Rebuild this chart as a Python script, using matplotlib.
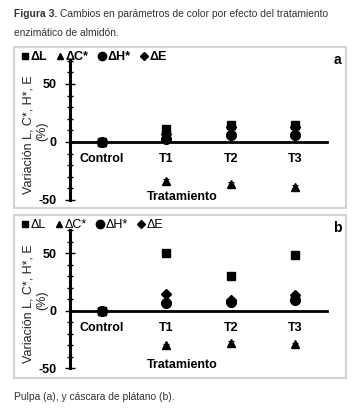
import matplotlib
matplotlib.use('Agg')
import matplotlib.pyplot as plt
from matplotlib.lines import Line2D
from matplotlib.patches import Rectangle
from matplotlib.ticker import MultipleLocator

plt.rcParams['font.family'] = ['Liberation Sans', 'DejaVu Sans']

# Data
categories = ['Control', 'T1', 'T2', 'T3']

# Pulpa (a)
pulpa_L = [0, 11, 15, 15]
pulpa_C = [0, -34, -36.5, -39]
pulpa_H = [0, 3, 6, 6]
pulpa_E = [0, 7, 13, 13]
pulpa_err = [0.5, 2, 2, 2]

# Cascara (b)
cascara_L = [0, 50, 30, 48]
cascara_C = [0, -30, -28, -29]
cascara_H = [0, 7, 8, 9]
cascara_E = [0, 14.5, 9, 13.5]
cascara_err = [0.5, 1.5, 1.5, 1.5]

series_names = ['\u0394L', '\u0394C*', '\u0394H*', '\u0394E']
markers = ['s', '^', 'o', 'D']
msizes = [6, 6, 7, 5]

W, H = 362, 415
fig = plt.figure(figsize=(W / 100, H / 100), dpi=100)


def fx(px):
    return px / W


def fy(py):
    return 1 - py / H


# Title: shrink the font until the first line fits the width of the panels
title_col = '#333333'
fs = 8.6
while True:
    t1 = fig.text(fx(14), fy(14), 'Figura 3.', fontsize=fs, fontweight='bold',
                  color=title_col, va='center')
    fig.canvas.draw()
    bb = t1.get_window_extent()
    t2 = fig.text(bb.x1 / W + fx(3), fy(14),
                  'Cambios en parámetros de color por efecto del tratamiento',
                  fontsize=fs, color=title_col, va='center')
    fig.canvas.draw()
    if t2.get_window_extent().x1 <= 334 or fs < 6:
        break
    t1.remove()
    t2.remove()
    fs -= 0.2

fig.text(fx(14), fy(33), 'enzimático de almidón.', fontsize=fs, color=title_col,
         va='center')
fig.text(fx(14), fy(397), 'Pulpa (a), y cáscara de plátano (b).', fontsize=fs,
         color=title_col, va='center')

panels = [
    dict(box=(47, 208), ax=(60.8, 200), data=[pulpa_L, pulpa_C, pulpa_H, pulpa_E],
         err=pulpa_err, letter='a', legw='bold'),
    dict(box=(215, 378), ax=(230, 368.5), data=[cascara_L, cascara_C, cascara_H, cascara_E],
         err=cascara_err, letter='b', legw='normal'),
]

x = list(range(1, len(categories) + 1))

for p in panels:
    top, bot = p['box']
    fig.patches.append(Rectangle((fx(14), fy(bot)), fx(332), (bot - top) / H,
                                 transform=fig.transFigure, fill=False,
                                 edgecolor='#d4d4d4', linewidth=1.5))
    atop, abot = p['ax']
    ax = fig.add_axes([fx(70), fy(abot), fx(257), (abot - atop) / H])
    ax.patch.set_alpha(0)

    for vals, m, ms in zip(p['data'], markers, msizes):
        ax.errorbar(x, vals, yerr=p['err'], fmt=m, color='black', markersize=ms,
                    ecolor='black', elinewidth=0.8, capsize=2.5, capthick=0.8,
                    zorder=3)

    ax.set_xlim(0.5, 4.5)
    ax.set_ylim(-50, 70)
    ax.spines['top'].set_visible(False)
    ax.spines['right'].set_visible(False)
    ax.spines['bottom'].set_position(('data', 0))
    ax.spines['left'].set_linewidth(2.2)
    ax.spines['bottom'].set_linewidth(2.0)

    ax.set_xticks(x)
    ax.set_xticklabels(categories, fontsize=9, fontweight='bold')
    ax.tick_params(axis='x', length=0, pad=8)
    ax.set_yticks([-50, 0, 50])
    ax.set_yticklabels(['-50', '0', '50'], fontsize=9, fontweight='bold')
    ax.yaxis.set_minor_locator(MultipleLocator(10))
    ax.tick_params(axis='y', which='major', direction='inout', length=7, width=1.0, pad=6)
    ax.tick_params(axis='y', which='minor', direction='inout', length=5, width=1.0)

    # y label in two separate lines
    ax.text(-0.163, 0.468, 'Variación L, C*, H*, E', transform=ax.transAxes,
            rotation=90, ha='center', va='center', fontsize=9, color='#222222')
    ax.text(-0.109, 0.496, '(%)', transform=ax.transAxes,
            rotation=90, ha='center', va='center', fontsize=9, color='#222222')
    ax.text(0.436, 0.025, 'Tratamiento', transform=ax.transAxes, ha='center',
            va='center', fontsize=9, fontweight='bold')

    fig.text(fx(337), fy(top + 13), p['letter'], fontsize=10, fontweight='bold',
             ha='center', va='center')

    handles = [Line2D([], [], marker=m, color='black', linestyle='none', markersize=ms)
               for m, ms in zip(markers, [5, 5, 6, 4])]
    fig.legend(handles, series_names, loc='center left',
               bbox_to_anchor=(fx(21), fy(top + 10)), ncol=4, frameon=False,
               handlelength=0.6, handletextpad=0.15, columnspacing=0.75,
               prop={'size': 9, 'weight': p['legw']}, borderpad=0, borderaxespad=0)

fig.savefig('out.png', dpi=100)
